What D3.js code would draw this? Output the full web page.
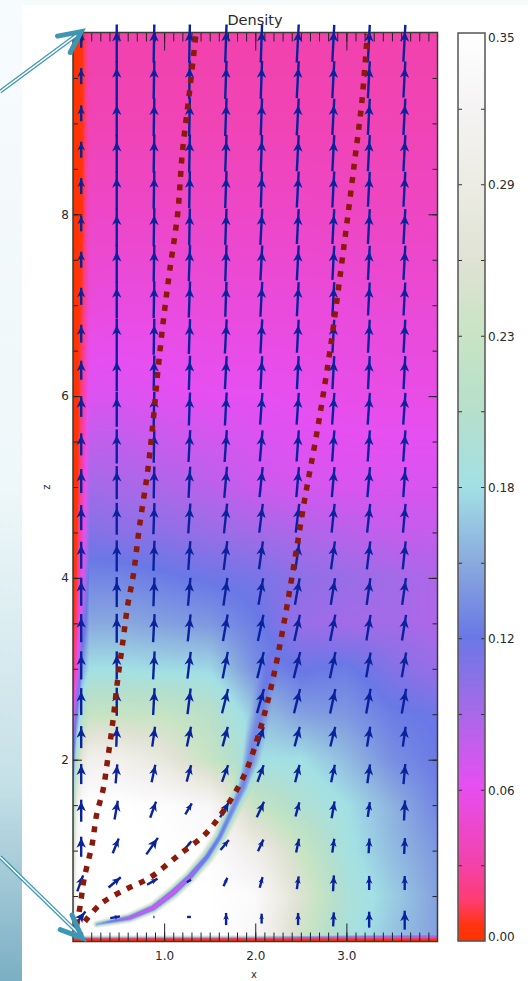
<!DOCTYPE html>
<html>
<head>
<meta charset="utf-8">
<script src="https://cdn.jsdelivr.net/npm/d3@7"></script>
<style>
html, body { margin: 0; padding: 0; background: #fff; }
svg { display: block; }
text { font-family: "DejaVu Sans", sans-serif; fill: #2a2a2a; }
</style>
</head>
<body>
<svg width="528" height="981"></svg>
<script>
// density table, rows go bottom to top
var gridX = [0, 0.04, 0.1, 0.18, 0.5, 1, 1.5, 2, 2.5, 3, 3.5, 4];
var gridZ = [0.03, 0.07, 0.5, 1, 1.5, 2, 2.5, 3, 3.5, 4, 4.5, 5, 6, 7, 8, 9, 10];
var density = [
    [0, 0, 0, 0, 0, 0, 0, 0, 0, 0, 0, 0],
    [0.3, 0.35, 0.35, 0.35, 0.35, 0.35, 0.35, 0.33, 0.24, 0.185, 0.16, 0.14],
    [0.25, 0.35, 0.35, 0.35, 0.35, 0.35, 0.35, 0.34, 0.26, 0.19, 0.165, 0.14],
    [0.2, 0.33, 0.35, 0.35, 0.35, 0.35, 0.345, 0.3, 0.235, 0.18, 0.155, 0.135],
    [0.15, 0.3, 0.345, 0.35, 0.35, 0.345, 0.33, 0.23, 0.195, 0.175, 0.15, 0.125],
    [0.1, 0.2, 0.28, 0.31, 0.31, 0.28, 0.23, 0.175, 0.175, 0.155, 0.13, 0.118],
    [0.05, 0.12, 0.2, 0.23, 0.23, 0.23, 0.21, 0.16, 0.14, 0.135, 0.12, 0.115],
    [0, 0.05, 0.14, 0.175, 0.175, 0.172, 0.17, 0.13, 0.115, 0.12, 0.105, 0.095],
    [0, 0.02, 0.09, 0.145, 0.145, 0.14, 0.135, 0.12, 0.095, 0.09, 0.09, 0.085],
    [0, 0.01, 0.06, 0.125, 0.125, 0.12, 0.115, 0.11, 0.1, 0.095, 0.09, 0.085],
    [0, 0.005, 0.04, 0.105, 0.102, 0.1, 0.095, 0.09, 0.085, 0.08, 0.075, 0.075],
    [0, 0, 0.03, 0.09, 0.088, 0.085, 0.08, 0.072, 0.068, 0.066, 0.066, 0.066],
    [0, 0, 0.02, 0.065, 0.065, 0.062, 0.06, 0.06, 0.058, 0.056, 0.055, 0.055],
    [0, 0, 0.01, 0.05, 0.052, 0.052, 0.05, 0.05, 0.05, 0.05, 0.048, 0.048],
    [0, 0, 0.004, 0.042, 0.042, 0.042, 0.042, 0.042, 0.042, 0.04, 0.04, 0.04],
    [0, 0, 0.004, 0.034, 0.034, 0.034, 0.034, 0.034, 0.034, 0.034, 0.034, 0.034],
    [0, 0, 0.005, 0.03, 0.03, 0.03, 0.03, 0.03, 0.03, 0.03, 0.03, 0.03]
];

// low density sheath along the outer field line
var sheathX = [0.26, 0.62, 0.88, 1.1, 1.28, 1.47, 1.61, 1.75, 1.86, 1.94, 1.99, 2.05, 2.1, 2.19];
var sheathZ = [0.19, 0.26, 0.37, 0.54, 0.71, 0.93, 1.15, 1.45, 1.7, 1.97, 2.22, 2.47, 2.77, 3.1];
var sheathRho = [0.14, 0.07, 0.06, 0.06, 0.08, 0.11, 0.12, 0.125, 0.125, 0.125, 0.125, 0.125, 0.12, 0.11];
var sheathWidth = [0.05, 0.07, 0.08, 0.09, 0.09, 0.1, 0.1, 0.11, 0.12, 0.13, 0.14, 0.14, 0.13, 0.12];

// velocity arrows, rows go bottom to top
var vecX = [0.09, 0.48, 0.89, 1.28, 1.68, 2.07, 2.47, 2.86, 3.25, 3.64];
var vecZ = [0.27, 0.67, 1.08, 1.48, 1.88, 2.29, 2.69, 3.09, 3.5, 3.9, 4.3, 4.71, 5.11, 5.51, 5.92, 6.32, 6.72, 7.13, 7.53, 7.93, 8.34, 8.74, 9.14, 9.55, 9.95];
var vecSpeed = [
    [0.55, 0.26, 0.03, 0.1, 0.32, 0.26, 0.32, 0.37, 0.42, 0.5],
    [0.45, 0.42, 0.32, 0.13, 0.24, 0.29, 0.34, 0.42, 0.37, 0.37],
    [0.53, 0.42, 0.53, 0.21, 0.34, 0.34, 0.37, 0.37, 0.39, 0.42],
    [0.58, 0.5, 0.45, 0.34, 0.47, 0.45, 0.39, 0.45, 0.39, 0.53],
    [0.53, 0.5, 0.47, 0.45, 0.47, 0.47, 0.47, 0.47, 0.5, 0.53],
    [0.58, 0.53, 0.53, 0.53, 0.53, 0.53, 0.53, 0.53, 0.53, 0.53],
    [0.71, 0.74, 0.71, 0.68, 0.66, 0.66, 0.66, 0.66, 0.66, 0.66],
    [0.74, 0.74, 0.74, 0.71, 0.71, 0.71, 0.71, 0.71, 0.66, 0.66],
    [0.74, 0.76, 0.74, 0.71, 0.71, 0.71, 0.71, 0.71, 0.68, 0.68],
    [0.74, 0.79, 0.76, 0.74, 0.74, 0.71, 0.71, 0.71, 0.71, 0.71],
    [0.71, 0.82, 0.79, 0.76, 0.76, 0.74, 0.74, 0.74, 0.74, 0.74],
    [0.66, 0.84, 0.82, 0.79, 0.79, 0.76, 0.76, 0.76, 0.76, 0.76],
    [0.63, 0.87, 0.84, 0.82, 0.82, 0.79, 0.79, 0.79, 0.79, 0.79],
    [0.58, 0.9, 0.87, 0.84, 0.84, 0.82, 0.82, 0.82, 0.82, 0.82],
    [0.53, 0.92, 0.9, 0.87, 0.87, 0.84, 0.84, 0.84, 0.84, 0.84],
    [0.5, 0.95, 0.92, 0.9, 0.87, 0.87, 0.87, 0.87, 0.87, 0.87],
    [0.47, 0.97, 0.95, 0.92, 0.9, 0.9, 0.87, 0.87, 0.87, 0.87],
    [0.45, 0.97, 0.97, 0.95, 0.92, 0.92, 0.9, 0.9, 0.87, 0.87],
    [0.42, 1, 0.97, 0.95, 0.95, 0.92, 0.92, 0.9, 0.9, 0.9],
    [0.42, 1, 1, 0.97, 0.95, 0.95, 0.92, 0.92, 0.92, 0.92],
    [0.42, 1, 1, 0.97, 0.97, 0.95, 0.95, 0.95, 0.92, 0.92],
    [0.42, 1, 1, 1, 0.97, 0.97, 0.95, 0.95, 0.95, 0.95],
    [0.42, 1, 1, 1, 1, 0.97, 0.97, 0.95, 0.95, 0.95],
    [0.42, 1, 1, 1, 1, 1, 0.97, 0.97, 0.97, 0.95],
    [0.42, 1, 1, 1, 1, 1, 1, 0.97, 0.97, 0.97]
];
// degrees off vertical, positive leans right
var vecTilt = [
    [38, 80, 90, 90, 0, 0, 0, 3, 0, 0],
    [20, 50, 60, 60, 25, 15, 8, 3, 0, 0],
    [0, 22, 35, 40, 40, 25, 12, 8, 3, 3],
    [0, 10, 20, 30, 30, 25, 15, 10, 8, 3],
    [0, 5, 12, 15, 20, 20, 14, 12, 8, 5],
    [0, 2, 8, 12, 15, 18, 15, 14, 9, 8],
    [0, 0, 3, 7, 14, 16, 14, 12, 10, 10],
    [0, 0, 3, 7, 11, 14, 14, 12, 10, 10],
    [0, 0, 3, 6, 10, 12, 12, 11, 9, 9],
    [0, 0, 2, 5, 8, 10, 10, 9, 8, 8],
    [0, 0, 2, 4, 7, 8, 8, 8, 7, 6],
    [0, 0, 2, 4, 6, 7, 7, 6, 6, 5],
    [0, 0, 1, 3, 5, 6, 5, 5, 5, 4],
    [0, 0, 1, 3, 4, 5, 4, 4, 4, 4],
    [0, 0, 1, 2, 3, 4, 4, 4, 4, 4],
    [0, 0, 1, 2, 3, 3, 3, 3, 3, 3],
    [0, 0, 1, 2, 3, 3, 3, 3, 3, 3],
    [0, 0, 1, 2, 2, 3, 3, 3, 3, 3],
    [0, 0, 1, 2, 2, 3, 3, 3, 3, 3],
    [0, 0, 1, 1, 2, 3, 3, 3, 3, 3],
    [0, 0, 1, 1, 2, 2, 3, 3, 3, 3],
    [0, 0, 1, 1, 2, 2, 3, 3, 3, 3],
    [0, 0, 1, 1, 2, 2, 3, 3, 3, 3],
    [0, 0, 1, 1, 2, 2, 3, 3, 3, 3],
    [0, 0, 1, 1, 2, 2, 3, 3, 3, 3]
];

// dotted field lines
var innerLineX = [0.04, 0.08, 0.12, 0.21, 0.26, 0.33, 0.38, 0.44, 0.49, 0.55, 0.6, 0.66, 0.73, 0.82, 0.88, 0.93, 0.99, 1.06, 1.15, 1.2, 1.28, 1.35];
var innerLineZ = [0.18, 0.4, 0.68, 1.07, 1.4, 1.67, 2, 2.44, 2.88, 3.32, 3.7, 4.02, 4.57, 5.18, 5.73, 6.26, 6.82, 7.37, 8.02, 8.68, 9.36, 9.99];
var outerLineX = [0.13, 0.3, 0.57, 0.84, 1.17, 1.45, 1.66, 1.88, 2.05, 2.19, 2.32, 2.45, 2.54, 2.68, 2.82, 2.98, 3.09, 3.17, 3.23];
var outerLineZ = [0.22, 0.41, 0.57, 0.7, 0.96, 1.18, 1.45, 1.83, 2.32, 2.87, 3.53, 4.3, 4.85, 5.62, 6.5, 7.7, 8.58, 9.24, 9.98];

// colour bar
var cbarStops = [0, 0.006, 0.015, 0.03, 0.06, 0.09, 0.117, 0.146, 0.175, 0.204, 0.233, 0.262, 0.292, 0.32, 0.35];
var cbarColors = ["#ff3300", "#ff3510", "#ff3c70", "#f242ac", "#e64ff2", "#a36be8", "#6a78e6", "#8aabdf", "#a3e0e4", "#b6dfcc", "#c8e4c4", "#e0e2d4", "#ecece4", "#f5f3f3", "#ffffff"];
var cbarTicks = [0, 0.0292, 0.0583, 0.0875, 0.1167, 0.1458, 0.175, 0.2042, 0.2333, 0.2625, 0.2917, 0.3208, 0.35];
var cbarLabels = ["0.00", "", "0.06", "", "0.12", "", "0.18", "", "0.23", "", "0.29", "", "0.35"];

// axis ticks
var xMajor = [1, 2, 3];
var zMajor = [2, 4, 6, 8];
var xMinor = d3.range(0.1, 4, 0.1);
var zMinor = d3.range(0.5, 10, 0.5);

// teal pointers out of the left margin, in plot units
var pointerShafts = [
    [[-0.8, 9.35], [0.05, 9.98]],
    [[-0.8, 0.93], [0.06, 0.09]]
];
var pointerHeads = [
    [[-0.17, 9.96], [0.09, 10.01], [-0.03, 9.78]],
    [[-0.14, 0.13], [0.1, 0.04], [-0.01, 0.29]]
];

var svg = d3.select("svg");

var x = d3.scaleLinear().domain([0, 4]).range([73, 437.5]),
    z = d3.scaleLinear().domain([0, 10]).range([941.5, 32.5]),
    cbarY = d3.scaleLinear().domain([0, 0.35]).range([941, 33]),
    color = d3.scaleLinear().domain(cbarStops).range(cbarColors).clamp(true),
    arrowLen = d3.scaleLinear().domain([0, 1]).range([0, 38]);

// page background
var defs = svg.append("defs");
var grad = defs.append("linearGradient").attr("id", "side")
    .attr("x1", 0).attr("y1", 0).attr("x2", 0).attr("y2", 1);
[[0, "#f7fbfd"], [0.5, "#eef7f9"], [0.8, "#c5e0e7"], [1, "#7bafc3"]].forEach(function(s) {
    grad.append("stop").attr("offset", s[0]).attr("stop-color", s[1]);
});
svg.append("rect").attr("width", 528).attr("height", 5).attr("fill", "#f5fafb");
svg.append("rect").attr("width", 22).attr("height", 981).attr("fill", "url(#side)");

// looks up the density table at a point, browser has no 2d scale for this
function baseDensity(px, pz) {
    var i = Math.min(Math.max(d3.bisectRight(gridX, px) - 1, 0), gridX.length - 2),
        j = Math.min(Math.max(d3.bisectRight(gridZ, pz) - 1, 0), gridZ.length - 2);
    var tx = Math.min(Math.max((px - gridX[i]) / (gridX[i + 1] - gridX[i]), 0), 1),
        tz = Math.min(Math.max((pz - gridZ[j]) / (gridZ[j + 1] - gridZ[j]), 0), 1);
    var a = density[j][i] + (density[j][i + 1] - density[j][i]) * tx,
        b = density[j + 1][i] + (density[j + 1][i + 1] - density[j + 1][i]) * tx;
    return a + (b - a) * tz;
}

function withSheath(px, pz, rho) {
    var best = Infinity, rm = rho, w = 0;
    for (var k = 0; k < sheathX.length - 1; k++) {
        var ax = sheathX[k], az = sheathZ[k],
            dx = sheathX[k + 1] - ax, dz = sheathZ[k + 1] - az;
        var t = ((px - ax) * dx + (pz - az) * dz) / (dx * dx + dz * dz);
        t = Math.min(Math.max(t, 0), 1);
        var ex = px - (ax + t * dx), ez = pz - (az + t * dz),
            d = Math.sqrt(ex * ex + ez * ez);
        if (d < best) {
            best = d;
            rm = sheathRho[k] + (sheathRho[k + 1] - sheathRho[k]) * t;
            w = sheathWidth[k] + (sheathWidth[k + 1] - sheathWidth[k]) * t;
        }
    }
    if (best >= w) return rho;
    var s = best / w;
    s = s * s * (3 - 2 * s);
    return Math.min(rho, rm + (rho - rm) * s);
}

// density field
var imgW = Math.round(x(4) - x(0)), imgH = Math.round(z(0) - z(10));
var canvas = document.createElement("canvas");
canvas.width = imgW;
canvas.height = imgH;
var ctx = canvas.getContext("2d");
var pix = ctx.createImageData(imgW, imgH);
for (var py = 0; py < imgH; py++) {
    for (var pxl = 0; pxl < imgW; pxl++) {
        var vx = x.invert(x(0) + pxl + 0.5), vz = z.invert(z(10) + py + 0.5);
        var c = d3.rgb(color(withSheath(vx, vz, baseDensity(vx, vz))));
        var o = (py * imgW + pxl) * 4;
        pix.data[o] = c.r;
        pix.data[o + 1] = c.g;
        pix.data[o + 2] = c.b;
        pix.data[o + 3] = 255;
    }
}
ctx.putImageData(pix, 0, 0);
svg.append("image")
    .attr("x", x(0)).attr("y", z(10))
    .attr("width", imgW).attr("height", imgH)
    .attr("href", canvas.toDataURL());

// axes, ticks point inward
function ticks(axis, values, size, cls) {
    return axis.tickValues(values).tickSize(size).tickFormat("");
}
var yBottom = z(0), yTop = z(10), xLeft = x(0), xRight = x(4);
[
    [d3.axisBottom(x), xMinor, -9, yBottom, "y"],
    [d3.axisBottom(x), xMajor, -18, yBottom, "y"],
    [d3.axisTop(x), xMinor, -9, yTop, "y"],
    [d3.axisTop(x), xMajor, -18, yTop, "y"],
    [d3.axisLeft(z), zMinor, -5, xLeft, "x"],
    [d3.axisLeft(z), zMajor, -9, xLeft, "x"],
    [d3.axisRight(z), zMinor, -5, xRight, "x"],
    [d3.axisRight(z), zMajor, -9, xRight, "x"]
].forEach(function(a) {
    var g = svg.append("g")
        .attr("transform", a[4] == "y" ? "translate(0," + a[3] + ")" : "translate(" + a[3] + ",0)")
        .call(ticks(a[0], a[1], a[2]));
    g.select(".domain").remove();
    g.selectAll("line").attr("stroke", "#222").attr("stroke-width", 1);
});

svg.append("rect")
    .attr("x", xLeft).attr("y", yTop)
    .attr("width", xRight - xLeft).attr("height", yBottom - yTop)
    .attr("fill", "none").attr("stroke", "#3a3a3a").attr("stroke-width", 1.5);

// tick labels
var xLabels = svg.append("g")
    .attr("transform", "translate(0," + yBottom + ")")
    .call(d3.axisBottom(x).tickValues(xMajor).tickSize(0).tickPadding(10));
xLabels.select(".domain").remove();
xLabels.selectAll("text").style("font-size", "12px").style("font-family", "'DejaVu Sans'");

var zLabels = svg.append("g")
    .attr("transform", "translate(" + xLeft + ",0)")
    .call(d3.axisLeft(z).tickValues(zMajor).tickSize(0).tickPadding(4));
zLabels.select(".domain").remove();
zLabels.selectAll("text").style("font-size", "12px").style("font-family", "'DejaVu Sans'");

svg.append("text")
    .attr("x", 255).attr("y", 25)
    .style("text-anchor", "middle")
    .style("font-size", "14.5px")
    .text("Density");

svg.append("text")
    .attr("x", 254).attr("y", 978)
    .style("text-anchor", "middle")
    .style("font-size", "10px")
    .text("x");

svg.append("text")
    .attr("transform", "translate(50,487) rotate(-90)")
    .style("text-anchor", "middle")
    .style("font-size", "10px")
    .text("z");

// velocity arrows
var vectors = [];
vecZ.forEach(function(zv, r) {
    vecX.forEach(function(xv, c) {
        vectors.push({x: xv, z: zv, speed: vecSpeed[r][c], tilt: vecTilt[r][c]});
    });
});

var arrows = svg.append("g").selectAll("g")
    .data(vectors)
    .enter().append("g")
        .attr("transform", function(d) {
            return "translate(" + x(d.x) + "," + z(d.z) + ") rotate(" + d.tilt + ")";
        });

arrows.append("line")
    .attr("y1", function(d) { return -0.33 * arrowLen(d.speed); })
    .attr("y2", function(d) { return 0.67 * arrowLen(d.speed); })
    .attr("stroke", "#0a239c")
    .attr("stroke-width", 2.4);

arrows.append("path")
    .attr("fill", "#0a239c")
    .attr("d", function(d) {
        var h = Math.min(arrowLen(d.speed) * 0.28, 5.5);
        return "M0," + (-h) + "L" + (h * 0.85) + "," + (h * 0.8) + "L0," + (h * 0.3) + "L" + (-h * 0.85) + "," + (h * 0.8) + "Z";
    });

// field lines
var fieldLine = d3.line()
    .x(function(d) { return x(d[0]); })
    .y(function(d) { return z(d[1]); })
    .curve(d3.curveCatmullRom);

[[innerLineX, innerLineZ], [outerLineX, outerLineZ]].forEach(function(l) {
    svg.append("path")
        .attr("d", fieldLine(d3.zip(l[0], l[1])))
        .attr("fill", "none")
        .attr("stroke", "#8c1a0a")
        .attr("stroke-width", 5.5)
        .attr("stroke-dasharray", "6 7.5");
});

// teal pointers
var plain = d3.line().x(function(d) { return x(d[0]); }).y(function(d) { return z(d[1]); });
pointerShafts.forEach(function(s) {
    svg.append("path").attr("d", plain(s)).attr("fill", "none").attr("stroke", "#3d97b3").attr("stroke-width", 4);
    svg.append("path").attr("d", plain(s)).attr("fill", "none").attr("stroke", "#fff").attr("stroke-width", 1.5);
});
pointerHeads.forEach(function(h) {
    svg.append("path")
        .attr("d", plain(h))
        .attr("fill", "none")
        .attr("stroke", "#3d97b3")
        .attr("stroke-width", 5)
        .attr("stroke-linecap", "round")
        .attr("stroke-linejoin", "miter");
});

// colour bar
var cbarSteps = d3.range(0, 0.35, 0.35 / 454);
svg.append("g").selectAll("rect")
    .data(cbarSteps)
    .enter().append("rect")
        .attr("x", 458).attr("width", 27)
        .attr("y", function(d) { return cbarY(d + 0.35 / 454); })
        .attr("height", 2.2)
        .attr("fill", function(d) { return color(d); });

var cbarLeft = svg.append("g").attr("transform", "translate(458,0)")
    .call(d3.axisRight(cbarY).tickValues(cbarTicks.slice(1, -1)).tickSize(4).tickFormat(""));
var cbarRight = svg.append("g").attr("transform", "translate(485,0)")
    .call(d3.axisLeft(cbarY).tickValues(cbarTicks.slice(1, -1)).tickSize(4).tickFormat(""));
cbarLeft.select(".domain").remove();
cbarRight.select(".domain").remove();
svg.selectAll("g line").filter(function() { return !this.getAttribute("stroke") || this.getAttribute("stroke") == "currentColor"; })
    .attr("stroke", "#333");

svg.append("rect")
    .attr("x", 458).attr("y", 33).attr("width", 27).attr("height", 908)
    .attr("fill", "none").attr("stroke", "#555").attr("stroke-width", 1.5);

svg.append("g").selectAll("text")
    .data(cbarTicks.filter(function(d, i) { return cbarLabels[i] != ""; }))
    .enter().append("text")
        .attr("x", 488)
        .attr("y", function(d) {
            // end labels sit inside the bar height
            var off = d == 0 ? -4 : (d == 0.35 ? 5 : 1);
            return cbarY(d) + off;
        })
        .attr("dy", "0.35em")
        .style("font-size", "12px")
        .text(function(d) { return cbarLabels[cbarTicks.indexOf(d)]; });
</script>
</body>
</html>
